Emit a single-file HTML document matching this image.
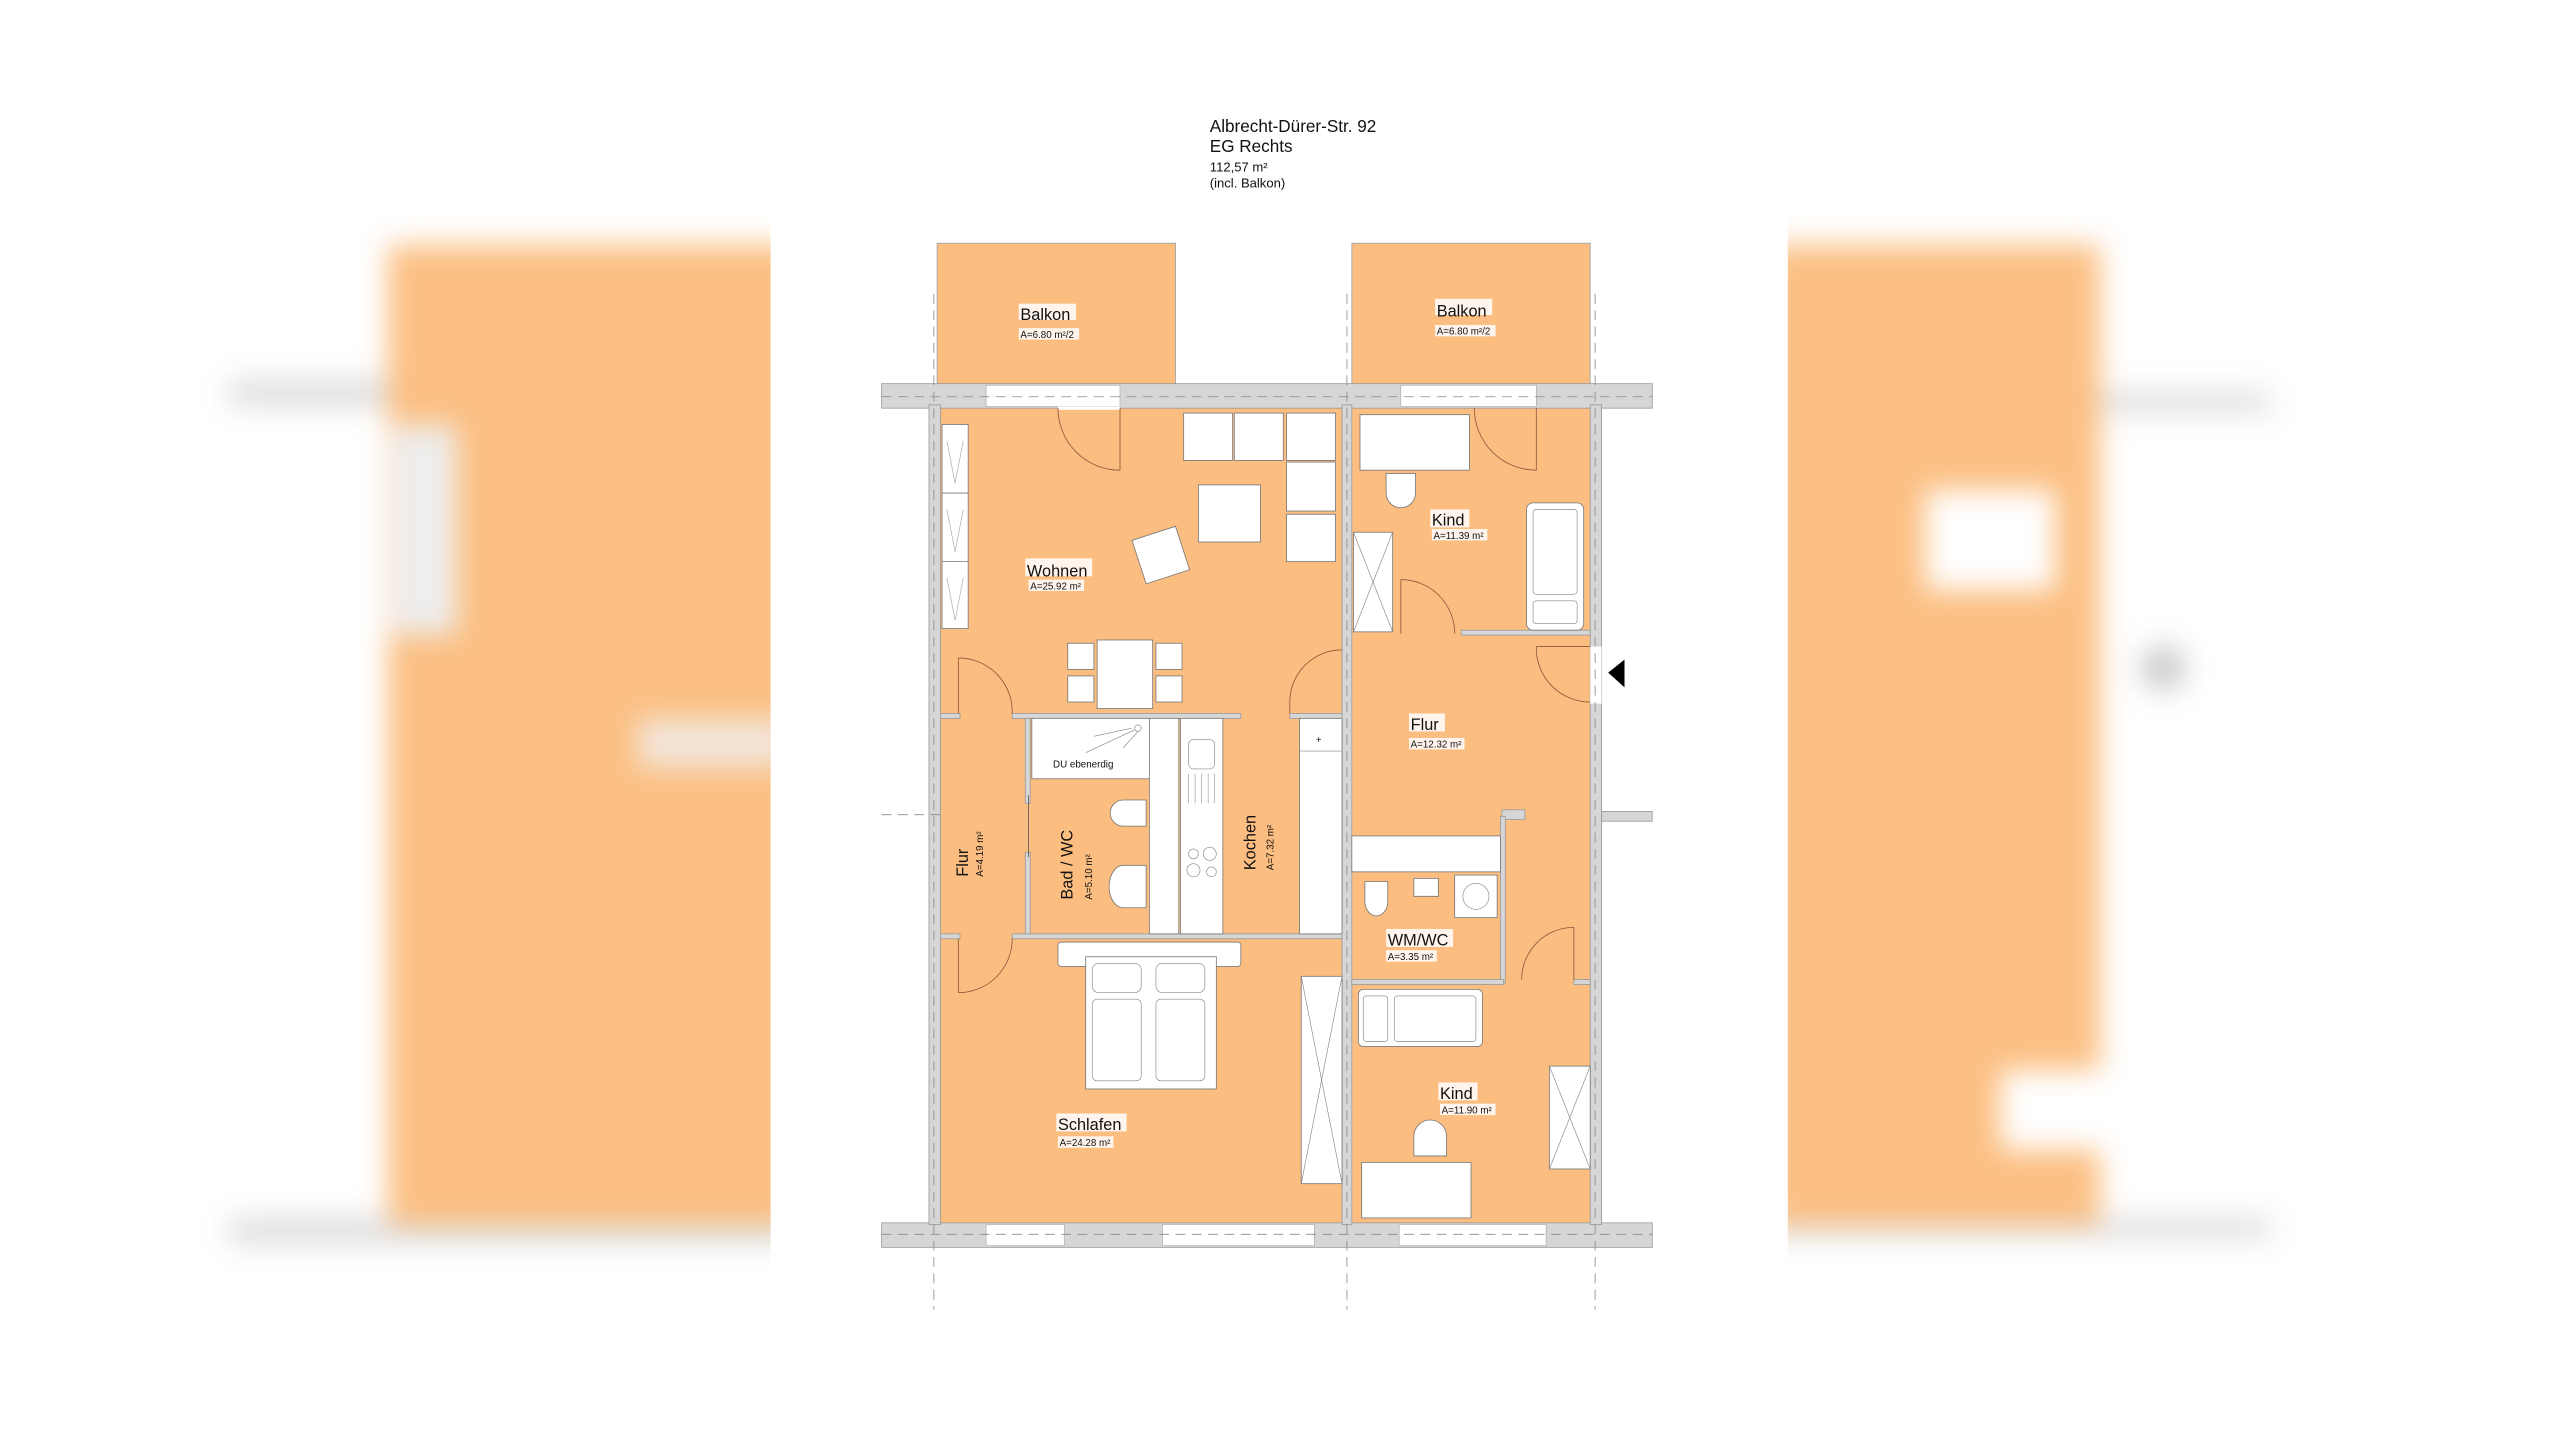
<!DOCTYPE html>
<html><head><meta charset="utf-8"><style>
html,body{margin:0;padding:0;background:#fff;width:2560px;height:1440px;overflow:hidden;position:relative}
#bg{position:absolute;left:0;top:0;width:2560px;height:1440px;filter:blur(14px)}
#bg div{position:absolute}
svg{display:block;position:absolute;left:0;top:0}
text{font-family:"Liberation Sans",sans-serif;fill:#111}
.f{fill:#fff;stroke:#777;stroke-width:0.5}
.w{fill:#d6d6d6;stroke:#999;stroke-width:0.5}
.d{stroke:#8a5a3a;stroke-width:0.5;fill:none}
.dash{stroke:#888;stroke-width:0.5;stroke-dasharray:6 4;fill:none}
.lb{fill:#fff;opacity:0.85}
</style></head><body>
<div id="bg">
<div style="left:230px;top:380px;width:560px;height:26px;background:#ddd"></div>
<div style="left:230px;top:1218px;width:560px;height:26px;background:#ddd"></div>
<div style="left:388px;top:245px;width:410px;height:980px;background:#fbbf82"></div>
<div style="left:392px;top:425px;width:65px;height:210px;background:#eee"></div>
<div style="left:637px;top:718px;width:150px;height:50px;background:#f3e6da"></div>
<div style="left:1770px;top:392px;width:500px;height:20px;background:#ddd"></div>
<div style="left:1770px;top:1218px;width:500px;height:20px;background:#ddd"></div>
<div style="left:1770px;top:245px;width:330px;height:980px;background:#fbbf82"></div>
<div style="left:1925px;top:490px;width:130px;height:100px;background:#fff"></div>
<div style="left:2000px;top:1070px;width:100px;height:80px;background:#fff"></div>
<div style="left:2140px;top:645px;width:46px;height:46px;border-radius:50%;background:#ccc"></div>
</div>
<svg width="2560" height="1440" viewBox="0 0 1568 882" xmlns="http://www.w3.org/2000/svg">
<rect x="472" y="0" width="623" height="882" fill="#fff"/>

<text x="741" y="81" font-size="10.5">Albrecht-Dürer-Str. 92</text>
<text x="741" y="93" font-size="10.5">EG Rechts</text>
<text x="741" y="105" font-size="8">112,57 m²</text>
<text x="741" y="115" font-size="8">(incl. Balkon)</text>

<rect x="574" y="149" width="146" height="87" fill="#fbbd80" stroke="#aaa" stroke-width="0.6"/>
<rect x="828" y="149" width="146" height="87" fill="#fbbd80" stroke="#aaa" stroke-width="0.6"/>

<rect x="574" y="248" width="402" height="502" fill="#fbbd80"/>

<rect class="w" x="540" y="235" width="472" height="15"/>
<rect class="w" x="540" y="749" width="472" height="15"/>
<rect class="w" x="569" y="248" width="7" height="502"/>
<rect class="w" x="974" y="248" width="7" height="502"/>
<rect class="w" x="822" y="248" width="6" height="502"/>
<rect x="604" y="236" width="82" height="13" fill="#fff" stroke="#aaa" stroke-width="0.4"/>
<rect x="858" y="236" width="83" height="13" fill="#fff" stroke="#aaa" stroke-width="0.4"/>
<rect x="604" y="750" width="48" height="13" fill="#fff" stroke="#aaa" stroke-width="0.4"/>
<rect x="712" y="750" width="93" height="13" fill="#fff" stroke="#aaa" stroke-width="0.4"/>
<rect x="857" y="750" width="90" height="13" fill="#fff" stroke="#aaa" stroke-width="0.4"/>
<rect x="974" y="396" width="7" height="35" fill="#fff"/>
<rect x="981" y="497" width="31" height="6" class="w"/>
<line class="dash" x1="540" y1="243" x2="1012" y2="243"/>
<line class="dash" x1="540" y1="756" x2="1012" y2="756"/>
<line class="dash" x1="572" y1="180" x2="572" y2="802"/>
<line class="dash" x1="825" y1="180" x2="825" y2="802"/>
<line class="dash" x1="977" y1="180" x2="977" y2="802"/>
<line class="dash" x1="540" y1="499" x2="576" y2="499"/>

<rect class="w" x="576" y="437" width="12" height="3"/>
<rect class="w" x="620" y="437" width="140" height="3"/>
<rect class="w" x="790" y="437" width="32" height="3"/>
<rect class="w" x="576" y="572" width="12" height="3"/>
<rect class="w" x="620" y="572" width="202" height="3"/>
<rect class="w" x="628" y="440" width="3" height="52"/>
<rect class="w" x="628" y="522" width="3" height="50"/>
<rect class="w" x="895" y="386" width="79" height="3"/>
<rect class="w" x="920" y="496" width="14" height="6"/>
<rect class="w" x="919" y="500" width="3" height="102"/>
<rect class="w" x="828" y="600" width="93" height="3"/>
<rect class="w" x="964" y="600" width="10" height="3"/>
<line x1="630" y1="487" x2="630" y2="525" stroke="#555" stroke-width="0.5"/>

<rect class="f" x="577" y="260" width="16" height="125"/>
<line x1="577" y1="302" x2="593" y2="302" stroke="#777" stroke-width="0.5"/>
<line x1="577" y1="344" x2="593" y2="344" stroke="#777" stroke-width="0.5"/>
<path d="M580 270 L585 296 L590 270 M580 312 L585 338 L590 312 M580 354 L585 380 L590 354" stroke="#aaa" stroke-width="0.4" fill="none"/>
<rect class="f" x="725" y="253" width="30" height="29"/>
<rect class="f" x="756" y="253" width="30" height="29"/>
<rect class="f" x="788" y="253" width="30" height="29"/>
<rect class="f" x="788" y="283" width="30" height="30"/>
<rect class="f" x="788" y="315" width="30" height="29"/>
<rect class="f" x="734" y="297" width="38" height="35"/>
<rect class="f" x="697" y="326" width="28" height="28" transform="rotate(-18 711 340)"/>
<rect class="f" x="672" y="392" width="34" height="42"/>
<rect class="f" x="654" y="394" width="16" height="16"/>
<rect class="f" x="654" y="414" width="16" height="16"/>
<rect class="f" x="708" y="394" width="16" height="16"/>
<rect class="f" x="708" y="414" width="16" height="16"/>
<rect x="648" y="249" width="38" height="2" fill="#fff"/>
<path class="d" d="M648 250 A38 38 0 0 0 686 288 L686 250"/>
<path class="d" d="M903 250 A38 38 0 0 0 941 288 L941 250"/>
<path class="d" d="M822 398 A32 32 0 0 0 790 430 L790 437"/>
<path class="d" d="M858 355 A33 33 0 0 1 891 388"/>
<line class="d" x1="858" y1="355" x2="858" y2="388"/>
<path class="d" d="M941 396 L974 396 M941 396 A33 33 0 0 0 974 430"/>
<path class="d" d="M587 403 A33 33 0 0 1 620 437 M587 403 L587 437"/>
<path class="d" d="M587 608 A33 33 0 0 0 620 575 M587 575 L587 608"/>
<path class="d" d="M964 568 L964 600 M964 568 A32 32 0 0 0 932 600"/>
<path d="M995 404 L985 412 L995 421 Z" fill="#000"/>

<rect class="f" x="833" y="254" width="67" height="34"/>
<path class="f" d="M849 290 L867 290 L867 302 A9 9 0 0 1 849 302 Z"/>
<rect class="f" x="935" y="308" width="35" height="78" rx="4"/>
<rect x="939" y="312" width="27" height="52" rx="2" fill="none" stroke="#888" stroke-width="0.4"/>
<rect x="939" y="368" width="27" height="14" rx="2" fill="none" stroke="#888" stroke-width="0.4"/>
<rect class="f" x="829" y="326" width="24" height="61"/>
<path d="M829 326 L853 387 M853 326 L829 387" stroke="#888" stroke-width="0.4"/>

<rect class="f" x="632" y="440" width="72" height="37"/>
<path d="M665 461 L695 447 M670 451 L693 446 M688 458 L697 448" stroke="#888" stroke-width="0.4"/>
<circle cx="697" cy="446" r="2" fill="#fff" stroke="#888" stroke-width="0.4"/>
<text x="645" y="470" font-size="6">DU ebenerdig</text>
<rect class="f" x="704" y="440" width="18" height="132"/>
<rect class="f" x="723" y="440" width="26" height="132"/>
<rect x="728" y="453" width="16" height="18" rx="3" fill="none" stroke="#888" stroke-width="0.4"/>
<path d="M728 474 L728 492 M732 474 L732 492 M736 474 L736 492 M740 474 L740 492 M744 474 L744 492" stroke="#999" stroke-width="0.4"/>
<circle cx="731" cy="523" r="3" fill="none" stroke="#888" stroke-width="0.4"/>
<circle cx="741" cy="523" r="4" fill="none" stroke="#888" stroke-width="0.4"/>
<circle cx="731" cy="533" r="4" fill="none" stroke="#888" stroke-width="0.4"/>
<circle cx="742" cy="534" r="3" fill="none" stroke="#888" stroke-width="0.4"/>
<rect class="f" x="796" y="440" width="26" height="132"/>
<line x1="796" y1="460" x2="822" y2="460" stroke="#888" stroke-width="0.4"/>
<text x="806" y="455" font-size="6" fill="#888">+</text>
<path class="f" d="M702 490 L688 490 A8 8 0 0 0 688 506 L702 506 Z"/>
<path class="f" d="M702 530 L688 530 A8 12 0 0 0 688 556 L702 556 Z"/>

<rect class="f" x="828" y="512" width="91" height="22"/>
<path class="f" d="M836 540 L850 540 L850 552 A7 9 0 0 1 836 552 Z"/>
<path class="f" d="M866 538 L881 538 L881 549 L866 549 Z"/>
<rect class="f" x="891" y="536" width="26" height="26"/>
<circle cx="904" cy="549" r="8" fill="none" stroke="#888" stroke-width="0.4"/>

<rect class="f" x="648" y="577" width="112" height="15" rx="2"/>
<rect class="f" x="665" y="586" width="80" height="81"/>
<rect x="669" y="590" width="30" height="18" rx="4" fill="none" stroke="#888" stroke-width="0.4"/>
<rect x="708" y="590" width="30" height="18" rx="4" fill="none" stroke="#888" stroke-width="0.4"/>
<rect x="669" y="612" width="30" height="50" rx="3" fill="none" stroke="#888" stroke-width="0.4"/>
<rect x="708" y="612" width="30" height="50" rx="3" fill="none" stroke="#888" stroke-width="0.4"/>
<rect class="f" x="797" y="598" width="25" height="127"/>
<path d="M797 598 L822 725 M822 598 L797 725" stroke="#888" stroke-width="0.4"/>

<rect class="f" x="832" y="606" width="76" height="35" rx="3"/>
<rect x="835" y="610" width="15" height="28" rx="2" fill="none" stroke="#888" stroke-width="0.4"/>
<rect x="854" y="610" width="50" height="28" rx="2" fill="none" stroke="#888" stroke-width="0.4"/>
<rect class="f" x="949" y="653" width="25" height="63"/>
<path d="M949 653 L974 716 M974 653 L949 716" stroke="#888" stroke-width="0.4"/>
<path class="f" d="M866 708 L866 696 A10 10 0 0 1 886 696 L886 708 Z"/>
<rect class="f" x="834" y="712" width="67" height="34"/>

<rect class="lb" x="624" y="186" width="35" height="10"/><text x="625" y="196" font-size="10">Balkon</text>
<rect class="lb" x="624" y="201" width="37" height="7"/><text x="625" y="207" font-size="6">A=6.80 m²/2</text>
<rect class="lb" x="879" y="183" width="35" height="10"/><text x="880" y="194" font-size="10">Balkon</text>
<rect class="lb" x="879" y="199" width="37" height="7"/><text x="880" y="205" font-size="6">A=6.80 m²/2</text>
<rect class="lb" x="628" y="342" width="41" height="11"/><text x="629" y="353" font-size="10">Wohnen</text>
<rect class="lb" x="630" y="355" width="34" height="7"/><text x="631" y="361" font-size="6">A=25.92 m²</text>
<rect class="lb" x="876" y="312" width="24" height="11"/><text x="877" y="322" font-size="10">Kind</text>
<rect class="lb" x="877" y="324" width="34" height="7"/><text x="878" y="330" font-size="6">A=11.39 m²</text>
<rect class="lb" x="863" y="437" width="22" height="11"/><text x="864" y="447" font-size="10">Flur</text>
<rect class="lb" x="863" y="452" width="34" height="7"/><text x="864" y="458" font-size="6">A=12.32 m²</text>
<rect class="lb" x="849" y="569" width="41" height="11"/><text x="850" y="579" font-size="10">WM/WC</text>
<rect class="lb" x="849" y="582" width="31" height="7"/><text x="850" y="588" font-size="6">A=3.35 m²</text>
<rect class="lb" x="881" y="663" width="24" height="11"/><text x="882" y="673" font-size="10">Kind</text>
<rect class="lb" x="882" y="676" width="34" height="7"/><text x="883" y="682" font-size="6">A=11.90 m²</text>
<rect class="lb" x="647" y="682" width="43" height="11"/><text x="648" y="692" font-size="10">Schlafen</text>
<rect class="lb" x="648" y="696" width="34" height="7"/><text x="649" y="702" font-size="6">A=24.28 m²</text>
<g transform="translate(593 537) rotate(-90)"><text font-size="10">Flur</text><text x="0" y="9" font-size="6">A=4.19 m²</text></g>
<g transform="translate(657 551) rotate(-90)"><text font-size="10">Bad / WC</text><text x="0" y="12" font-size="6">A=5.10 m²</text></g>
<g transform="translate(769 533) rotate(-90)"><text font-size="10">Kochen</text><text x="0" y="11" font-size="6">A=7.32 m²</text></g>
</svg>
</body></html>
